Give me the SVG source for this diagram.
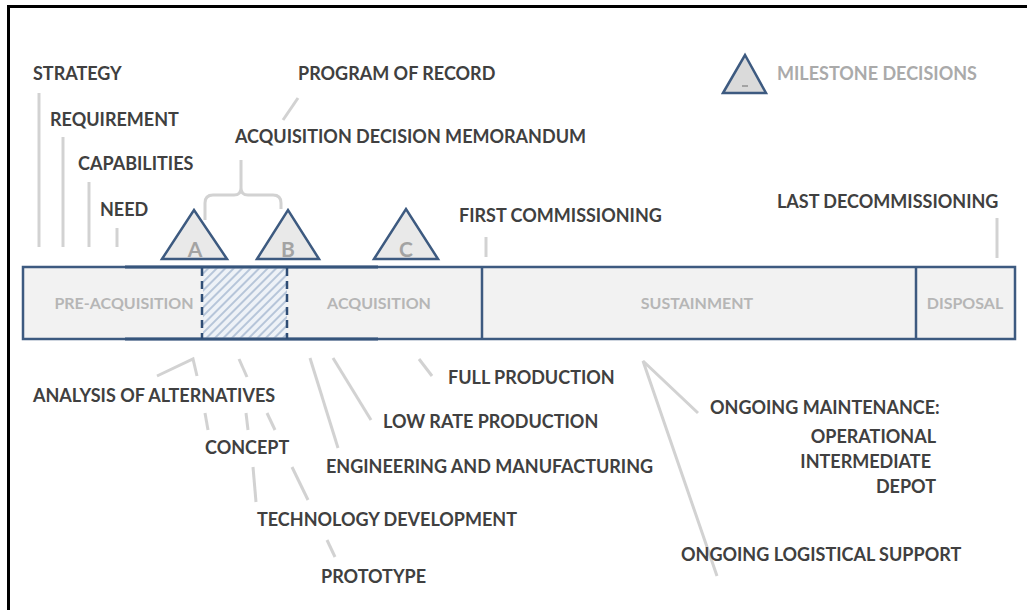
<svg xmlns="http://www.w3.org/2000/svg" width="1027" height="610" viewBox="0 0 1027 610">
<style>
.lbl{font-family:Lato,"Liberation Sans",sans-serif;font-weight:bold;font-size:18px;fill:#404040}
.gl{font-family:Lato,"Liberation Sans",sans-serif;font-weight:bold;font-size:16px;fill:#b6b6b6}
.ms{font-family:Lato,"Liberation Sans",sans-serif;font-weight:bold;font-size:21px;fill:#a3a3a3;text-anchor:middle}
.leg{font-family:Lato,"Liberation Sans",sans-serif;font-weight:bold;font-size:18px;fill:#aaaaaa}
.ln{stroke:#d2d2d2;stroke-width:3;fill:none;stroke-linecap:butt}
.tri{fill:#e9e9e9;stroke:#3d5a80;stroke-width:2.5;stroke-linejoin:miter}
.bar{fill:#f2f2f2;stroke:#3d5a80;stroke-width:2.5}
.dash{stroke:#2f4d75;stroke-width:2.5;stroke-dasharray:8 5}
</style>
<defs>
<pattern id="hatch" patternUnits="userSpaceOnUse" width="6" height="6" patternTransform="rotate(45)">
<rect width="6" height="6" fill="#eef2f7"/>
<line x1="1" y1="0" x2="1" y2="6" stroke="#a3b6d0" stroke-width="1.5"/>
</pattern>
</defs>
<rect x="0" y="0" width="1027" height="610" fill="#ffffff"/>
<path d="M8.5,610 V6.5 H1027" fill="none" stroke="#000" stroke-width="3"/>

<g id="connectors">
<line class="ln" x1="39" y1="93" x2="39" y2="247"/>
<line class="ln" x1="63" y1="137" x2="63" y2="247"/>
<line class="ln" x1="89" y1="182" x2="89" y2="247"/>
<line class="ln" x1="117" y1="228" x2="117" y2="247"/>
<line class="ln" x1="298" y1="98" x2="283" y2="120"/>
<path class="ln" d="M205,220 V203 Q205,195 213,195 H234 Q241,195 241,188 V160 M241,188 Q241,195 248,195 H273 Q281,195 281,203 V209"/>
<line class="ln" x1="486" y1="237" x2="486" y2="257"/>
<line class="ln" x1="997" y1="218" x2="997" y2="258"/>
<path class="ln" d="M157,376 L193,359 L197,376"/>
<line class="ln" x1="205" y1="413" x2="208" y2="430"/>
<line class="ln" x1="239" y1="359" x2="247" y2="377"/>
<line class="ln" x1="246" y1="413" x2="248" y2="430"/>
<line class="ln" x1="267" y1="413" x2="275" y2="430"/>
<line class="ln" x1="253" y1="467" x2="256" y2="502"/>
<line class="ln" x1="292" y1="467" x2="308" y2="500"/>
<line class="ln" x1="327" y1="540" x2="335" y2="557"/>
<line class="ln" x1="310" y1="358" x2="338" y2="448"/>
<line class="ln" x1="333" y1="358" x2="371" y2="420"/>
<line class="ln" x1="419" y1="359" x2="432" y2="376"/>
<path class="ln" d="M698,413 L643,361 L717,576"/>
</g>

<g id="bar">
<rect class="bar" x="23" y="267" width="992" height="72"/>
<rect x="203" y="268.5" width="84" height="69" fill="url(#hatch)"/>
<line x1="482" y1="267" x2="482" y2="339" stroke="#3d5a80" stroke-width="2.5"/>
<line x1="916" y1="267" x2="916" y2="339" stroke="#3d5a80" stroke-width="2.5"/>
<line x1="125" y1="267" x2="378" y2="267" stroke="#36557c" stroke-width="3"/>
<line x1="125" y1="339" x2="378" y2="339" stroke="#36557c" stroke-width="3"/>
<line class="dash" x1="202" y1="268" x2="202" y2="339"/>
<line class="dash" x1="287" y1="268" x2="287" y2="339"/>
</g>
<g id="pre-acquisition"><text class="gl" x="124" y="309" text-anchor="middle">PRE-ACQUISITION</text></g>
<g id="acquisition"><text class="gl" x="379" y="309" text-anchor="middle">ACQUISITION</text></g>
<g id="sustainment"><text class="gl" x="697" y="309" text-anchor="middle">SUSTAINMENT</text></g>
<g id="disposal"><text class="gl" x="965" y="309" text-anchor="middle">DISPOSAL</text></g>

<g id="milestone-a"><polygon class="tri" points="162,259 194,210 227,259"/><text class="ms" x="195" y="257">A</text></g>
<g id="milestone-b"><polygon class="tri" points="257,259 288,210 319,259"/><text class="ms" x="288" y="257">B</text></g>
<g id="milestone-c"><polygon class="tri" points="374,259 406,209 438,259"/><text class="ms" x="406" y="257">C</text></g>

<g id="legend">
<polygon points="723,93 745,55 766,93" fill="#dadada" stroke="#3d5a80" stroke-width="2.5"/>
<line x1="742" y1="86" x2="748" y2="86" stroke="#909090" stroke-width="1.5"/>
<text class="leg" x="777" y="80">MILESTONE DECISIONS</text>
</g>

<g id="strategy"><text class="lbl" x="33" y="80">STRATEGY</text></g>
<g id="requirement"><text class="lbl" x="50" y="126">REQUIREMENT</text></g>
<g id="capabilities"><text class="lbl" x="78" y="170">CAPABILITIES</text></g>
<g id="need"><text class="lbl" x="100" y="216">NEED</text></g>
<g id="program-of-record"><text class="lbl" x="298" y="80">PROGRAM OF RECORD</text></g>
<g id="adm"><text class="lbl" x="235" y="143">ACQUISITION DECISION MEMORANDUM</text></g>
<g id="first-commissioning"><text class="lbl" x="459" y="222">FIRST COMMISSIONING</text></g>
<g id="last-decommissioning"><text class="lbl" x="777" y="208">LAST DECOMMISSIONING</text></g>
<g id="full-production"><text class="lbl" x="448" y="384">FULL PRODUCTION</text></g>
<g id="analysis"><text class="lbl" x="33" y="402">ANALYSIS OF ALTERNATIVES</text></g>
<g id="low-rate"><text class="lbl" x="383" y="428">LOW RATE PRODUCTION</text></g>
<g id="concept"><text class="lbl" x="205" y="454">CONCEPT</text></g>
<g id="engineering"><text class="lbl" x="326" y="473">ENGINEERING AND MANUFACTURING</text></g>
<g id="technology"><text class="lbl" x="257" y="526">TECHNOLOGY DEVELOPMENT</text></g>
<g id="prototype"><text class="lbl" x="321" y="583">PROTOTYPE</text></g>
<g id="maintenance">
<text class="lbl" x="710" y="414">ONGOING MAINTENANCE:</text>
<text class="lbl" x="936" y="443" text-anchor="end">OPERATIONAL</text>
<text class="lbl" x="931" y="468" text-anchor="end">INTERMEDIATE</text>
<text class="lbl" x="936" y="493" text-anchor="end">DEPOT</text>
</g>
<g id="logistical-support"><text class="lbl" x="681" y="561">ONGOING LOGISTICAL SUPPORT</text></g>
</svg>
